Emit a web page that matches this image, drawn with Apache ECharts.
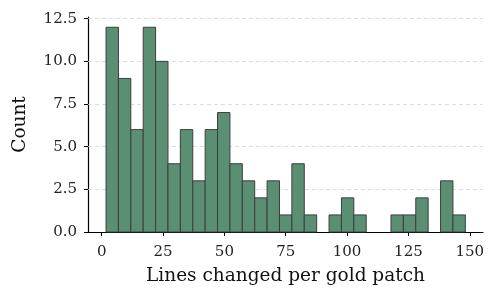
<!DOCTYPE html>
<html><head><meta charset="utf-8">
<script src="https://cdn.jsdelivr.net/npm/echarts@6/dist/echarts.min.js"></script>
<style>html,body{margin:0;padding:0;background:#fff}#c{width:499px;height:299px}</style>
</head><body><div id="c"></div>
<script>
const binEdges = [1.75, 6.8, 11.85, 16.9, 21.95, 27.0, 32.05, 37.1, 42.15, 47.2, 52.25, 57.3, 62.35, 67.4, 72.45, 77.5, 82.55, 87.6, 92.65, 97.7, 102.75, 107.8, 112.85, 117.9, 122.95, 128.0, 133.05, 138.1, 143.15, 148.2];
const counts = [12, 9, 6, 12, 10, 4, 6, 3, 6, 7, 4, 3, 2, 3, 1, 4, 1, 0, 1, 2, 1, 0, 0, 1, 1, 2, 0, 3, 1];
const xTicks = [0, 25, 50, 75, 100, 125, 150];
const yTicks = [0, 2.5, 5, 7.5, 10, 12.5];
const xLabel = 'Lines changed per gold patch';
const yLabel = 'Count';

const data = counts.map((c, i) => [binEdges[i], binEdges[i + 1], c]);
const font = 'DejaVu Serif';
const chart = echarts.init(document.getElementById('c'), null, {renderer: 'canvas'});
chart.setOption({
  animation: false,
  grid: {left: 88, right: 16, top: 17, bottom: 67, outerBoundsMode: 'none', containLabel: false},
  xAxis: {
    type: 'value', min: -5.6, max: 155.4, interval: 25,
    axisLine: {show: true, onZero: false, lineStyle: {color: '#000', width: 1.2}},
    axisTick: {show: true, length: 4, lineStyle: {color: '#000'},
      customValues: xTicks},
    axisLabel: {color: '#222', fontFamily: font, fontSize: 15, margin: 13,
      customValues: xTicks, formatter: v => String(v)},
    splitLine: {show: false},
    name: xLabel, nameLocation: 'middle', nameGap: 35,
    nameTextStyle: {color: '#111', fontFamily: font, fontSize: 18.5}
  },
  yAxis: {
    type: 'value', min: 0, max: 12.6,
    axisLine: {show: true, onZero: false, lineStyle: {color: '#000', width: 1.2}},
    axisTick: {show: true, length: 4, lineStyle: {color: '#000'}, customValues: yTicks},
    axisLabel: {color: '#222', fontFamily: font, fontSize: 15, margin: 11,
      customValues: yTicks, formatter: v => v.toFixed(1)},
    splitLine: {show: false},
    name: yLabel, nameLocation: 'middle', nameGap: 58, nameRotate: 90,
    nameTextStyle: {color: '#111', fontFamily: font, fontSize: 18.5}
  },
  series: [
    {
      type: 'line', data: [], silent: true, z: 1,
      markLine: {
        silent: true, symbol: 'none', label: {show: false}, z: 1,
        lineStyle: {color: '#d4d4d4', type: [4, 3], width: 0.8},
        data: yTicks.filter(v => v > 0).map(v => ({yAxis: v}))
      }
    },
    {
      type: 'custom', z: 5,
      renderItem: function (params, api) {
        const p0 = api.coord([api.value(0), 0]);
        const p1 = api.coord([api.value(1), api.value(2)]);
        if (api.value(2) <= 0) return null;
        return {
          type: 'rect',
          shape: {x: p0[0], y: p1[1], width: p1[0] - p0[0], height: p0[1] - p1[1]},
          style: {fill: '#5b8f74', stroke: '#3b3f3c', lineWidth: 1}
        };
      },
      encode: {x: [0, 1], y: 2},
      data: data
    }
  ]
});
</script></body></html>
